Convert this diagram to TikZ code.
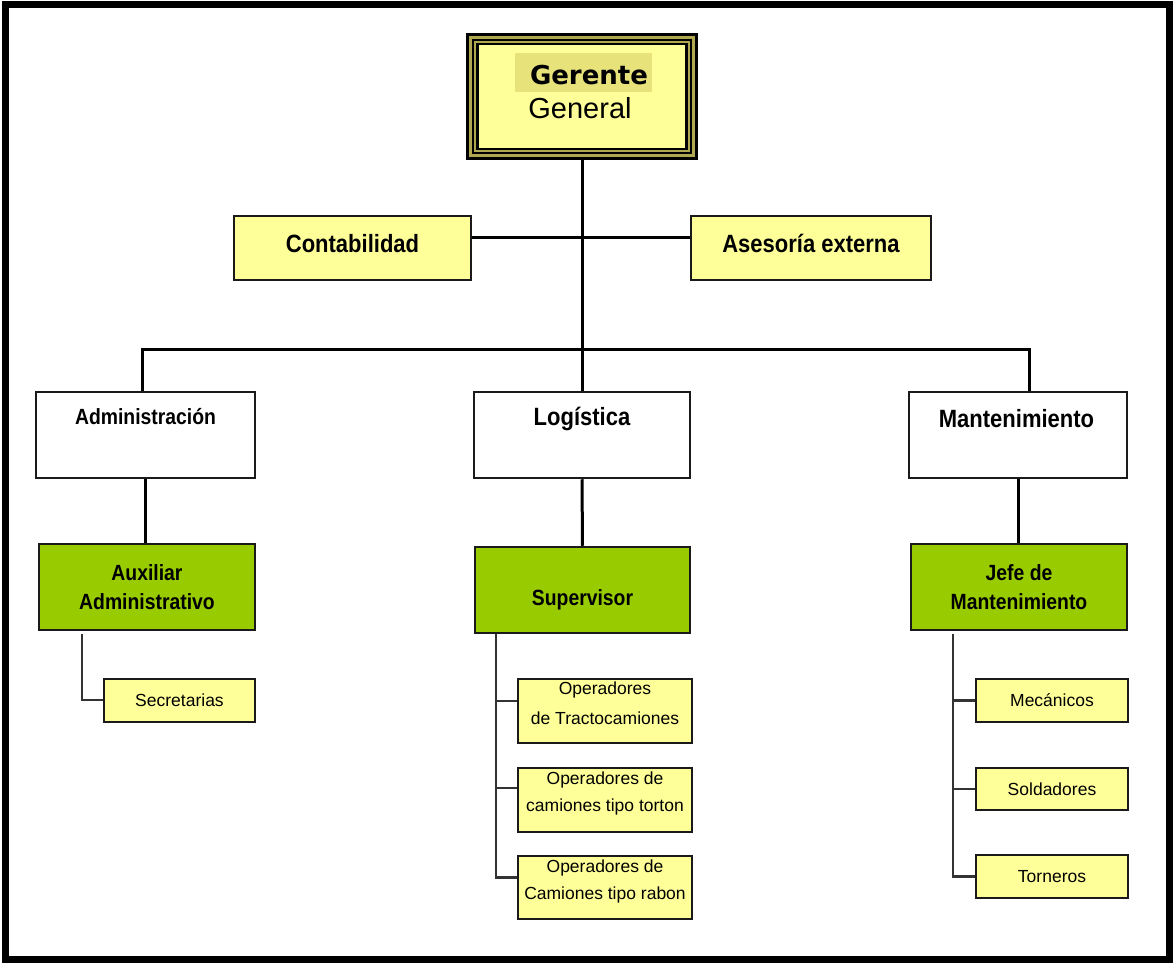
\documentclass[tikz,border=0pt]{standalone}
\usepackage{fontspec}
\setmainfont{Liberation Sans}
\newfontfamily\nar{Liberation Sans}[FakeStretch=0.88]
\newfontfamily\dvs{DejaVu Sans}
\definecolor{yel}{HTML}{FFFF99}
\definecolor{grn}{HTML}{99CC00}
\definecolor{bord}{HTML}{1A1A1A}
\definecolor{oliv}{HTML}{B0A850}
\definecolor{hil}{HTML}{E8E27A}
\definecolor{sline}{HTML}{333333}
\tikzset{
  box/.style={draw=bord, line width=2.5pt, inner sep=0pt},
  ybox/.style={box, fill=yel, font=\nar\bfseries\fontsize{25}{30}\selectfont, text height=18pt, text depth=10pt},
  wbox/.style={box, fill=white},
  wtext/.style={font=\nar\bfseries\fontsize{25}{30}\selectfont, inner sep=0pt},
  gbox/.style={box, fill=grn, align=center, font=\nar\bfseries\fontsize{22}{29}\selectfont},
  sbox/.style={box, line width=2pt, fill=yel, align=center, font=\fontsize{17.5}{28}\selectfont},
  conn/.style={line width=3pt, draw=black},
  sconn/.style={line width=2.2pt, draw=sline},
}
\begin{document}
\begin{tikzpicture}[x=1pt,y=-1pt]
\useasboundingbox (0,0) rectangle (1173,963);
\fill[white] (0,0) rectangle (1173,963);
\draw[line width=7pt] (5.5,5) rectangle (1169.5,959.5);

% Gerente General
\node[minimum width=232pt, minimum height=127pt, fill=black, inner sep=0pt] (gg) at (582,96.5) {};
\fill[oliv] ([shift={(3pt,-3pt)}]gg.north west) rectangle ([shift={(-3pt,3pt)}]gg.south east);
\fill[black] ([shift={(6.5pt,-6.5pt)}]gg.north west) rectangle ([shift={(-6.5pt,6.5pt)}]gg.south east);
\fill[oliv] ([shift={(8.5pt,-8.5pt)}]gg.north west) rectangle ([shift={(-8.5pt,8.5pt)}]gg.south east);
\fill[black] ([shift={(10.5pt,-10.5pt)}]gg.north west) rectangle ([shift={(-10.5pt,10.5pt)}]gg.south east);
\fill[yel] ([shift={(13pt,-12.5pt)}]gg.north west) rectangle ([shift={(-13pt,12.5pt)}]gg.south east);
\node[fill=hil, minimum width=137pt, minimum height=39pt, inner sep=0pt] (ghl) at (583.5,72.5) {};
\node[font=\dvs\bfseries\fontsize{26}{30}\selectfont, inner sep=0pt] (ggt1) at (589,75) {Gerente};
\node[font=\fontsize{29}{32}\selectfont, inner sep=0pt] (ggt2) at (580,108) {General};

% staff
\node[ybox, minimum width=237pt, minimum height=64pt] (cont) at (352.5,248) {Contabilidad};
\node[ybox, minimum width=240pt, minimum height=64pt] (ases) at (811,248) {Asesoría externa};

% departments
\node[wbox, minimum width=219pt, minimum height=86pt] (adm) at (145.5,435) {};
\node[wtext, font=\nar\bfseries\fontsize{22}{26}\selectfont] (admt) at (145.5,417) {Administración};
\node[wbox, minimum width=216pt, minimum height=86pt] (log) at (582,435) {};
\node[wtext] (logt) at (582,419) {Logística};
\node[wbox, minimum width=218pt, minimum height=86pt] (man) at (1018,435) {};
\node[wtext] (mant) at (1016.5,419) {Mantenimiento};

% green
\node[gbox, minimum width=216pt, minimum height=86pt] (aux) at (147,587) {Auxiliar\\Administrativo};
\node[gbox, minimum width=215pt, minimum height=86pt] (sup) at (582.5,590) {};
\node[inner sep=0pt, font=\nar\bfseries\fontsize{22}{29}\selectfont] (supt) at (582.5,600) {Supervisor};
\node[gbox, minimum width=216pt, minimum height=86pt] (jefe) at (1019,587) {Jefe de\\Mantenimiento};

% small boxes
\node[sbox, minimum width=151pt, minimum height=43pt] (sec) at (179.5,700) {Secretarias};
\node[sbox, minimum width=174pt, minimum height=64pt] (op1) at (605,711) {};
\node[inner sep=0pt, align=center, font=\fontsize{17.5}{30}\selectfont] (op1t) at (605,703.5) {Operadores\\de Tractocamiones};
\node[sbox, minimum width=174pt, minimum height=64pt] (op2) at (605,800) {};
\node[inner sep=0pt, align=center, font=\fontsize{17.5}{27}\selectfont] (op2t) at (605,793.5) {Operadores de\\camiones tipo torton};
\node[sbox, minimum width=174pt, minimum height=63pt] (op3) at (605,887.5) {};
\node[inner sep=0pt, align=center, font=\fontsize{17.5}{27}\selectfont] (op3t) at (605,881.5) {Operadores de\\Camiones tipo rabon};
\node[sbox, minimum width=152pt, minimum height=43pt] (mec) at (1052,700.5) {Mecánicos};
\node[sbox, minimum width=152pt, minimum height=42pt] (sol) at (1052,789) {Soldadores};
\node[sbox, minimum width=152pt, minimum height=43pt] (tor) at (1052,876.5) {Torneros};

% main connectors
\coordinate (busL) at (142,349);
\coordinate (busM) at (582,349);
\coordinate (busR) at (1029,349);
\draw[conn] (gg.south) -- (busM);
\draw[conn] ([yshift=11pt]cont.east) -- ([yshift=11pt]ases.west);
\draw[conn] (busL |- adm.north) -- (busL) -- (busR) -- (busR |- man.north);
\draw[conn] (busM) -- (log.north);
\draw[conn] (adm.south) -- (adm.south |- aux.north);
\draw[conn] (log.south) -- (sup.north);
\draw[conn] (man.south) -- (man.south |- jefe.north);

% sub connectors
\coordinate (a1) at (82,634);
\draw[sconn] (a1) |- (sec.west);
\coordinate (s1) at (496,634);
\draw[sconn] (s1) |- ([yshift=10pt]op3.west);
\draw[sconn] (s1 |- op1.west) ++(0,-10) -- ([yshift=10pt]op1.west);
\draw[sconn] (s1 |- op2.west) ++(0,-12) -- ([yshift=12pt]op2.west);
\coordinate (j1) at (953,634);
\draw[sconn] (j1) |- (tor.west);
\draw[sconn] (j1 |- mec.west) -- (mec.west);
\draw[sconn] (j1 |- sol.west) -- (sol.west);
\end{tikzpicture}
\end{document}
